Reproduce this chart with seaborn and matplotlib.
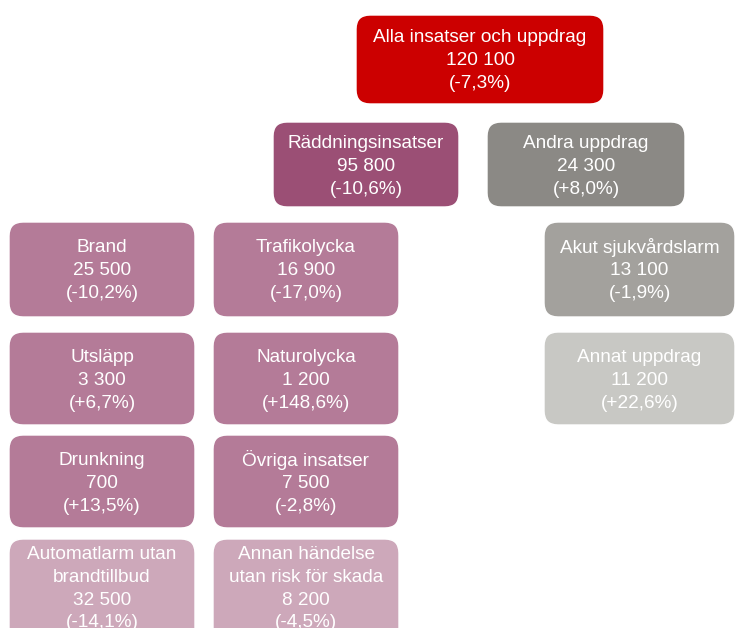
import matplotlib.pyplot as plt
import seaborn as sns
from matplotlib.patches import FancyBboxPatch

sns.set_theme(style="white")
plt.rcParams['font.family'] = ['Liberation Sans', 'DejaVu Sans']

# Data
labels = ['Alla insatser och uppdrag', 'Räddningsinsatser', 'Andra uppdrag',
          'Brand', 'Trafikolycka', 'Akut sjukvårdslarm',
          'Utsläpp', 'Naturolycka', 'Annat uppdrag',
          'Drunkning', 'Övriga insatser',
          'Automatlarm utan\nbrandtillbud', 'Annan händelse\nutan risk för skada']
counts = [120100, 95800, 24300,
          25500, 16900, 13100,
          3300, 1200, 11200,
          700, 7500,
          32500, 8200]
changes = [-7.3, -10.6, 8.0,
           -10.2, -17.0, -1.9,
           6.7, 148.6, 22.6,
           13.5, -2.8,
           -14.1, -4.5]
groups = ['total', 'rädd', 'andra',
          'rädd_sub', 'rädd_sub', 'andra_sub1',
          'rädd_sub', 'rädd_sub', 'andra_sub2',
          'rädd_sub', 'rädd_sub',
          'rädd_light', 'rädd_light']

# Layout (pixel boxes: left, top, width, height)
boxes = [(356, 15, 248, 89), (273, 122, 186, 85), (487, 122, 198, 85),
         (9, 222, 186, 95), (213, 222, 186, 95), (544, 222, 191, 95),
         (9, 332, 186, 93), (213, 332, 186, 93), (544, 332, 191, 93),
         (9, 435, 186, 93), (213, 435, 186, 93),
         (9, 539, 186, 110), (213, 539, 186, 110)]

colors = {'total': '#CC0000', 'rädd': '#9B4F75', 'andra': '#8B8985',
          'rädd_sub': '#B47B98', 'andra_sub1': '#A3A19D', 'andra_sub2': '#C8C8C4',
          'rädd_light': '#CDA8BA'}


def fmt_count(v):
    return f"{v:,}".replace(',', ' ')


def fmt_change(c):
    s = f"{c:+.1f}".replace('.', ',')
    return f"({s}%)"


fig = plt.figure(figsize=(7.36, 6.28), dpi=100)
ax = fig.add_axes([0, 0, 1, 1])
ax.set_xlim(0, 736)
ax.set_ylim(628, 0)
ax.axis('off')

for lab, cnt, ch, grp, (x, y, w, h) in zip(labels, counts, changes, groups, boxes):
    r = 14
    patch = FancyBboxPatch((x + r, y + r), w - 2 * r, h - 2 * r,
                           boxstyle=f"round,pad={r}", facecolor=colors[grp],
                           edgecolor='white', linewidth=1)
    ax.add_patch(patch)
    lines = lab.split('\n') + [fmt_count(cnt), fmt_change(ch)]
    line_h = 22.8
    y0 = y + 24 if len(lines) == 3 else y + 14
    if grp == 'rädd' or grp == 'andra':
        y0 = y + 20
    if grp == 'total':
        y0 = y + 23
    elif len(lines) == 3:
        y0 += 1.5
    else:
        y0 += 1.5
    for i, t in enumerate(lines):
        ax.text(x + w / 2, y0 + i * line_h, t, ha='center', va='center',
                color='white', fontsize=13.7)

fig.savefig('out.png', dpi=100, facecolor='white')
